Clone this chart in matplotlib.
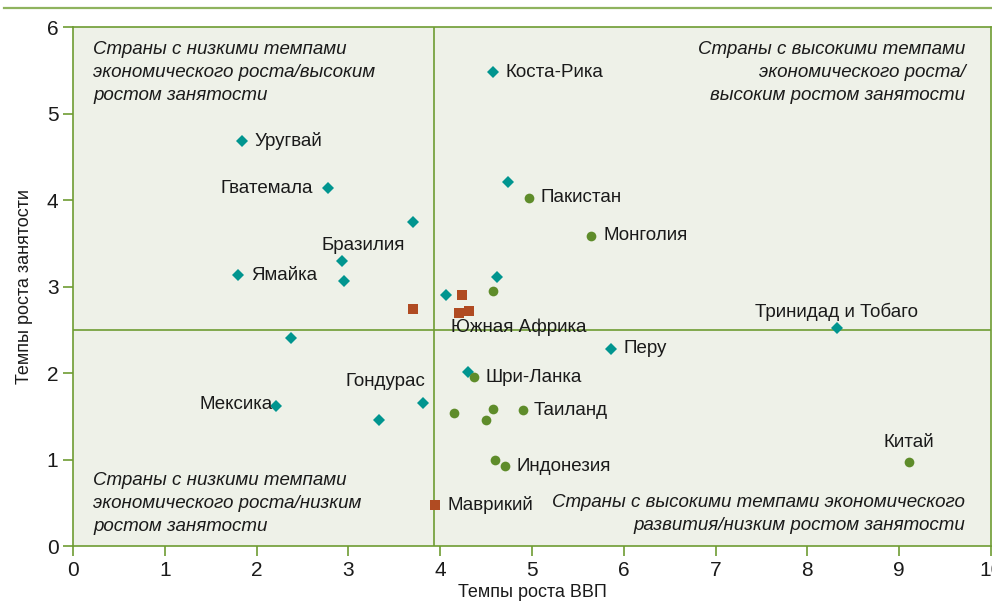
import matplotlib
matplotlib.use("Agg")
import matplotlib.pyplot as plt
from matplotlib import font_manager
from matplotlib.lines import Line2D

# ── data ────────────────────────────────────────────────────────────────
# teal diamonds
dia_x = [4.58, 1.84, 2.78, 3.70, 2.93, 2.95, 1.80, 4.06, 4.62, 4.74,
         2.38, 2.21, 3.33, 3.81, 4.30, 5.86, 8.32]
dia_y = [5.48, 4.68, 4.14, 3.75, 3.30, 3.07, 3.13, 2.90, 3.11, 4.21,
         2.40, 1.62, 1.46, 1.65, 2.01, 2.28, 2.52]
# green circles
cir_x = [4.97, 5.64, 4.58, 4.37, 4.15, 4.58, 4.50, 4.90, 4.60, 4.71, 9.11]
cir_y = [4.03, 3.59, 2.95, 1.95, 1.54, 1.59, 1.46, 1.57, 0.99, 0.92, 0.97]
# brown squares
sq_x = [3.70, 4.24, 4.21, 4.31, 3.94]
sq_y = [2.74, 2.90, 2.69, 2.72, 0.48]

gdp_threshold = 3.93
emp_threshold = 2.5

# labels: (text, x, y, dx, dy, ha)  -- dx/dy offsets in points
labels = [
    ("Коста-Рика", 4.58, 5.48, 9, 0, "left"),
    ("Уругвай", 1.84, 4.68, 9, 0, "left"),
    ("Гватемала", 2.78, 4.14, -11, 0, "right"),
    ("Бразилия", 2.93, 3.30, 15, 11, "center"),
    ("Ямайка", 1.80, 3.13, 9, 0, "left"),
    ("Пакистан", 4.97, 4.03, 8, 0, "left"),
    ("Монголия", 5.64, 3.59, 9, 0, "left"),
    ("Южная Африка", 4.31, 2.72, 36, -12, "center"),
    ("Тринидад и Тобаго", 8.32, 2.52, 0, 12, "center"),
    ("Перу", 5.86, 2.28, 9, 0, "left"),
    ("Шри-Ланка", 4.37, 1.95, 8, 0, "left"),
    ("Таиланд", 4.90, 1.57, 8, 0, "left"),
    ("Индонезия", 4.71, 0.92, 8, 0, "left"),
    ("Китай", 9.11, 0.97, 0, 14, "center"),
    ("Маврикий", 3.94, 0.48, 9, 0, "left"),
    ("Гондурас", 3.81, 1.65, 2, 16, "right"),
    ("Мексика", 2.21, 1.62, -2, 1, "right"),
]

quadrants = [
    ("Страны с низкими темпами\nэкономического роста/высоким\nростом занятости", 0.022, 0.973, "left"),
    ("Страны с высокими темпами\nэкономического роста/\nвысоким ростом занятости", 0.972, 0.973, "right"),
    ("Страны с низкими темпами\nэкономического роста/низким\nростом занятости", 0.022, 0.143, "left"),
    ("Страны с высокими темпами экономического\nразвития/низким ростом занятости", 0.972, 0.100, "right"),
]

# ── style ───────────────────────────────────────────────────────────────
names = {f.name for f in font_manager.fontManager.ttflist}
base_font = "Liberation Sans Narrow" if "Liberation Sans Narrow" in names else "Liberation Sans"
plt.rcParams["font.family"] = [base_font, "DejaVu Sans"]

TEAL = "#00958f"
GREEN = "#5e8c2a"
BROWN = "#b04b22"
LINE = "#6e9c32"
BG = "#eef1e8"
TXT = "#1a1a1a"

fig = plt.figure(figsize=(9.92, 6.04), dpi=100)
ax = fig.add_axes([0.0736, 0.096, 0.9254, 0.859])
ax.set_facecolor(BG)

ax.axvline(gdp_threshold, color=LINE, lw=1.2, zorder=1)
ax.axhline(emp_threshold, color=LINE, lw=1.2, zorder=1)

ax.plot(dia_x, dia_y, "D", color=TEAL, ms=6, mew=0, zorder=3)
ax.plot(cir_x, cir_y, "o", color=GREEN, ms=7, mew=0, zorder=3)
ax.plot(sq_x, sq_y, "s", color=BROWN, ms=7.2, mew=0, zorder=3)

for text, x, y, dx, dy, ha in labels:
    ax.annotate(text, (x, y), xytext=(dx, dy), textcoords="offset points",
                ha=ha, va="center", fontsize=13.5, color=TXT, zorder=4)

for text, x, y, ha in quadrants:
    ax.text(x, y, text, transform=ax.transAxes, ha=ha, va="top",
            fontsize=13.5, style="italic", color=TXT, linespacing=1.46)

ax.set_xlim(0, 10)
ax.set_ylim(0, 6)
ax.set_xticks(range(0, 11))
ax.set_yticks(range(0, 7))
for s in ax.spines.values():
    s.set_color(LINE)
    s.set_linewidth(1.2)
ax.tick_params(colors=LINE, labelcolor=TXT, length=7, width=1.2, labelsize=15)

ax.set_xlabel("Темпы роста ВВП", fontsize=13, color=TXT, labelpad=3)
ax.set_ylabel("Темпы роста занятости", fontsize=13, color=TXT, labelpad=10)

# decorative rule across the top of the figure
fig.add_artist(Line2D([0.004, 1.0], [0.986, 0.986], transform=fig.transFigure,
                      color="#8fb35e", lw=1.6))

fig.savefig("out.png", dpi=100)
